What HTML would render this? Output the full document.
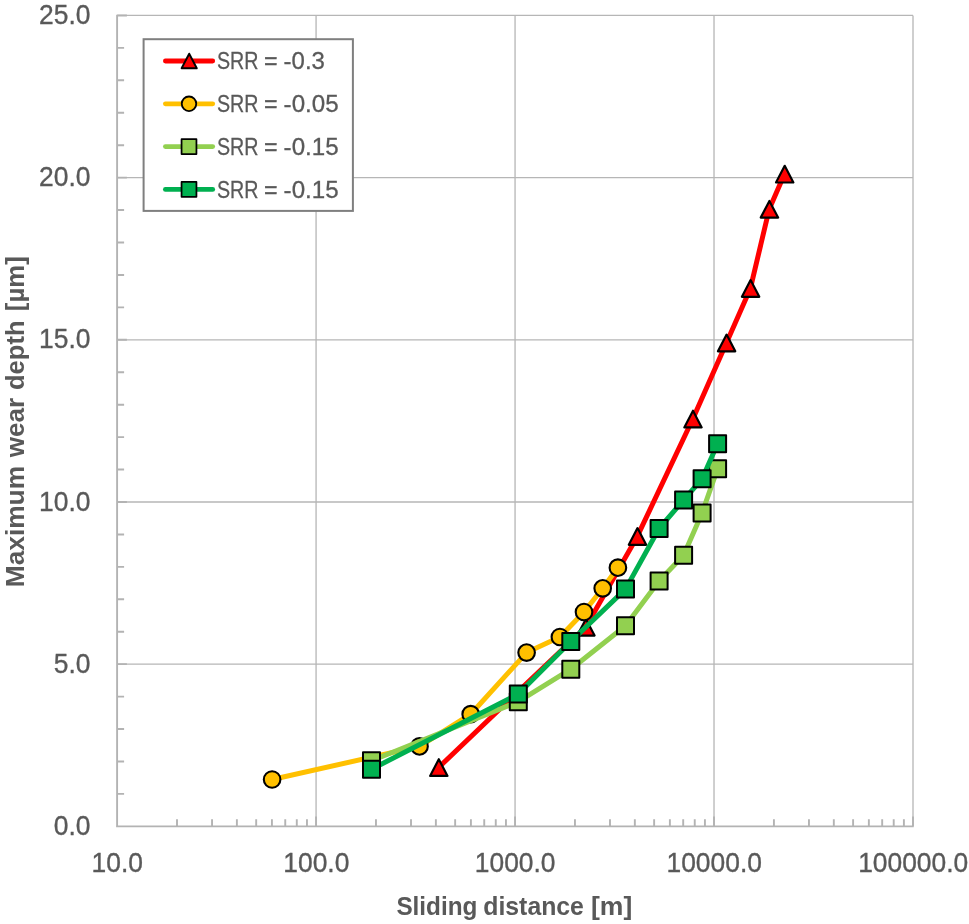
<!DOCTYPE html>
<html lang="en"><head><meta charset="utf-8"><title>Maximum wear depth vs sliding distance</title>
<style>html,body{margin:0;padding:0;background:#fff}body{width:969px;height:924px;overflow:hidden}</style></head>
<body>
<svg width="969" height="924" viewBox="0 0 969 924" style="display:block;font-family:'Liberation Sans',sans-serif">
<rect width="969" height="924" fill="#fff"/>
<path d="M316.07 15.45V826.35M515.05 15.45V826.35M714.02 15.45V826.35M913.00 15.45V826.35M117.10 664.17H913.00M117.10 501.99H913.00M117.10 339.81H913.00M117.10 177.63H913.00M117.10 15.45H913.00" stroke="#b6b6b6" stroke-width="1.3" fill="none"/>
<path d="M117.10 14.75V827.25M116.10 826.35H913.70M117.10 826.35h9.8M117.10 793.91h7M117.10 761.48h7M117.10 729.04h7M117.10 696.61h7M117.10 664.17h9.8M117.10 631.73h7M117.10 599.30h7M117.10 566.86h7M117.10 534.43h7M117.10 501.99h9.8M117.10 469.55h7M117.10 437.12h7M117.10 404.68h7M117.10 372.25h7M117.10 339.81h9.8M117.10 307.37h7M117.10 274.94h7M117.10 242.50h7M117.10 210.07h7M117.10 177.63h9.8M117.10 145.19h7M117.10 112.76h7M117.10 80.32h7M117.10 47.89h7M117.10 15.45h9.8M117.10 826.35v-9.8M177.00 826.35v-7M212.04 826.35v-7M236.89 826.35v-7M256.18 826.35v-7M271.93 826.35v-7M285.25 826.35v-7M296.79 826.35v-7M306.97 826.35v-7M316.07 826.35v-9.8M375.97 826.35v-7M411.01 826.35v-7M435.87 826.35v-7M455.15 826.35v-7M470.91 826.35v-7M484.23 826.35v-7M495.77 826.35v-7M505.95 826.35v-7M515.05 826.35v-9.8M574.95 826.35v-7M609.99 826.35v-7M634.84 826.35v-7M654.13 826.35v-7M669.88 826.35v-7M683.20 826.35v-7M694.74 826.35v-7M704.92 826.35v-7M714.02 826.35v-9.8M773.92 826.35v-7M808.96 826.35v-7M833.82 826.35v-7M853.10 826.35v-7M868.86 826.35v-7M882.18 826.35v-7M893.72 826.35v-7M903.90 826.35v-7M913.00 826.35v-9.8" stroke="#b3b3b3" stroke-width="1.9" fill="none"/>
<g fill="#595959" font-size="27.4" stroke="#595959" stroke-width="0.35">
<text x="90.5" y="834.9" text-anchor="end" textLength="36.7" lengthAdjust="spacingAndGlyphs">0.0</text>
<text x="90.5" y="672.7" text-anchor="end" textLength="36.7" lengthAdjust="spacingAndGlyphs">5.0</text>
<text x="90.5" y="510.5" text-anchor="end" textLength="51.4" lengthAdjust="spacingAndGlyphs">10.0</text>
<text x="90.5" y="348.3" text-anchor="end" textLength="51.4" lengthAdjust="spacingAndGlyphs">15.0</text>
<text x="90.5" y="186.1" text-anchor="end" textLength="51.4" lengthAdjust="spacingAndGlyphs">20.0</text>
<text x="90.5" y="24.0" text-anchor="end" textLength="51.4" lengthAdjust="spacingAndGlyphs">25.0</text>
<text x="117.3" y="872.2" text-anchor="middle" textLength="51.4" lengthAdjust="spacingAndGlyphs">10.0</text>
<text x="316.3" y="872.2" text-anchor="middle" textLength="66.1" lengthAdjust="spacingAndGlyphs">100.0</text>
<text x="515.2" y="872.2" text-anchor="middle" textLength="80.7" lengthAdjust="spacingAndGlyphs">1000.0</text>
<text x="714.2" y="872.2" text-anchor="middle" textLength="95.4" lengthAdjust="spacingAndGlyphs">10000.0</text>
<text x="913.2" y="872.2" text-anchor="middle" textLength="110.1" lengthAdjust="spacingAndGlyphs">100000.0</text>
</g>
<text y="915.0" font-weight="bold" font-size="25.3" fill="#595959"><tspan x="396.4" textLength="81.0" lengthAdjust="spacingAndGlyphs">Sliding</tspan> <tspan x="483.3" textLength="100.6" lengthAdjust="spacingAndGlyphs">distance</tspan> <tspan x="591.0" textLength="41.3" lengthAdjust="spacingAndGlyphs">[m]</tspan></text>
<text transform="translate(23.7 0) rotate(-90)" y="0" font-weight="bold" font-size="25.3" fill="#595959"><tspan x="-587.3" textLength="121.4" lengthAdjust="spacingAndGlyphs">Maximum</tspan> <tspan x="-457.3" textLength="59.5" lengthAdjust="spacingAndGlyphs">wear</tspan> <tspan x="-390.0" textLength="69.5" lengthAdjust="spacingAndGlyphs">depth</tspan> <tspan x="-311.2" textLength="55.0" lengthAdjust="spacingAndGlyphs">[µm]</tspan></text>
<path d="M438.6 767.5L585.7 627.2L637.3 536.4L692.8 419.0L726.4 342.9L750.4 288.4L769.2 209.2L784.5 174.1" stroke="#ff0000" stroke-width="5" fill="none" stroke-linejoin="round" stroke-linecap="round"/>
<path d="M438.8 759.2L447.5 775.9H430.1Z" fill="#ff0000" stroke="#000" stroke-width="2.16" stroke-linejoin="round"/>
<path d="M585.9 618.9L594.6 635.6H577.2Z" fill="#ff0000" stroke="#000" stroke-width="2.16" stroke-linejoin="round"/>
<path d="M637.5 528.1L646.2 544.8H628.8Z" fill="#ff0000" stroke="#000" stroke-width="2.16" stroke-linejoin="round"/>
<path d="M693.0 410.7L701.7 427.4H684.3Z" fill="#ff0000" stroke="#000" stroke-width="2.16" stroke-linejoin="round"/>
<path d="M726.6 334.6L735.3 351.3H717.9Z" fill="#ff0000" stroke="#000" stroke-width="2.16" stroke-linejoin="round"/>
<path d="M750.6 280.1L759.3 296.8H741.9Z" fill="#ff0000" stroke="#000" stroke-width="2.16" stroke-linejoin="round"/>
<path d="M769.4 200.9L778.1 217.6H760.7Z" fill="#ff0000" stroke="#000" stroke-width="2.16" stroke-linejoin="round"/>
<path d="M784.7 165.8L793.4 182.5H776.0Z" fill="#ff0000" stroke="#000" stroke-width="2.16" stroke-linejoin="round"/>
<path d="M272.1 779.5L419.5 746.4L470.7 714.2L526.6 652.6L559.9 637.0L584.0 612.0L602.7 588.3L617.9 567.7" stroke="#ffc000" stroke-width="5" fill="none" stroke-linejoin="round" stroke-linecap="round"/>
<circle cx="272.1" cy="779.5" r="8.30" fill="#ffc000" stroke="#000" stroke-width="2.10"/>
<circle cx="419.5" cy="746.4" r="8.30" fill="#ffc000" stroke="#000" stroke-width="2.10"/>
<circle cx="470.7" cy="714.2" r="8.30" fill="#ffc000" stroke="#000" stroke-width="2.10"/>
<circle cx="526.6" cy="652.6" r="8.30" fill="#ffc000" stroke="#000" stroke-width="2.10"/>
<circle cx="559.9" cy="637.0" r="8.30" fill="#ffc000" stroke="#000" stroke-width="2.10"/>
<circle cx="584.0" cy="612.0" r="8.30" fill="#ffc000" stroke="#000" stroke-width="2.10"/>
<circle cx="602.7" cy="588.3" r="8.30" fill="#ffc000" stroke="#000" stroke-width="2.10"/>
<circle cx="617.9" cy="567.7" r="8.30" fill="#ffc000" stroke="#000" stroke-width="2.10"/>
<path d="M371.5 760.8L518.3 701.7L570.8 669.2L625.5 625.8L659.1 580.9L683.6 555.2L702.1 512.9L717.6 468.7" stroke="#92d050" stroke-width="5" fill="none" stroke-linejoin="round" stroke-linecap="round"/>
<rect x="363.00" y="752.30" width="17.00" height="17.00" fill="#92d050" stroke="#000" stroke-width="2.00" stroke-linejoin="round"/>
<rect x="509.80" y="693.20" width="17.00" height="17.00" fill="#92d050" stroke="#000" stroke-width="2.00" stroke-linejoin="round"/>
<rect x="562.30" y="660.70" width="17.00" height="17.00" fill="#92d050" stroke="#000" stroke-width="2.00" stroke-linejoin="round"/>
<rect x="617.00" y="617.30" width="17.00" height="17.00" fill="#92d050" stroke="#000" stroke-width="2.00" stroke-linejoin="round"/>
<rect x="650.60" y="572.40" width="17.00" height="17.00" fill="#92d050" stroke="#000" stroke-width="2.00" stroke-linejoin="round"/>
<rect x="675.10" y="546.70" width="17.00" height="17.00" fill="#92d050" stroke="#000" stroke-width="2.00" stroke-linejoin="round"/>
<rect x="693.60" y="504.40" width="17.00" height="17.00" fill="#92d050" stroke="#000" stroke-width="2.00" stroke-linejoin="round"/>
<rect x="709.10" y="460.20" width="17.00" height="17.00" fill="#92d050" stroke="#000" stroke-width="2.00" stroke-linejoin="round"/>
<path d="M371.5 769.2L518.3 694.1L570.8 641.6L625.5 589.1L659.1 528.5L683.6 500.0L702.1 478.8L717.6 443.8" stroke="#00b050" stroke-width="5" fill="none" stroke-linejoin="round" stroke-linecap="round"/>
<rect x="363.00" y="760.70" width="17.00" height="17.00" fill="#00b050" stroke="#000" stroke-width="2.00" stroke-linejoin="round"/>
<rect x="509.80" y="685.60" width="17.00" height="17.00" fill="#00b050" stroke="#000" stroke-width="2.00" stroke-linejoin="round"/>
<rect x="562.30" y="633.10" width="17.00" height="17.00" fill="#00b050" stroke="#000" stroke-width="2.00" stroke-linejoin="round"/>
<rect x="617.00" y="580.60" width="17.00" height="17.00" fill="#00b050" stroke="#000" stroke-width="2.00" stroke-linejoin="round"/>
<rect x="650.60" y="520.00" width="17.00" height="17.00" fill="#00b050" stroke="#000" stroke-width="2.00" stroke-linejoin="round"/>
<rect x="675.10" y="491.50" width="17.00" height="17.00" fill="#00b050" stroke="#000" stroke-width="2.00" stroke-linejoin="round"/>
<rect x="693.60" y="470.30" width="17.00" height="17.00" fill="#00b050" stroke="#000" stroke-width="2.00" stroke-linejoin="round"/>
<rect x="709.10" y="435.30" width="17.00" height="17.00" fill="#00b050" stroke="#000" stroke-width="2.00" stroke-linejoin="round"/>
<rect x="143.6" y="39.2" width="209.3" height="171.7" fill="#fff" stroke="#7f7f7f" stroke-width="2"/>
<path d="M165.4 61.0H212.7" stroke="#ff0000" stroke-width="4.8" stroke-linecap="round"/>
<path d="M189.2 53.7L196.8 68.3H181.6Z" fill="#ff0000" stroke="#000" stroke-width="1.89" stroke-linejoin="round"/>
<text y="69.4" font-size="24" fill="#595959" stroke="#595959" stroke-width="0.3"><tspan x="216.9" textLength="41.5" lengthAdjust="spacingAndGlyphs">SRR</tspan> <tspan x="263.9" textLength="13.6" lengthAdjust="spacingAndGlyphs">=</tspan> <tspan x="283.6" textLength="41.3" lengthAdjust="spacingAndGlyphs">-0.3</tspan></text>
<path d="M165.4 103.8H212.7" stroke="#ffc000" stroke-width="4.8" stroke-linecap="round"/>
<circle cx="189.0" cy="103.8" r="7.26" fill="#ffc000" stroke="#000" stroke-width="1.84"/>
<text y="112.2" font-size="24" fill="#595959" stroke="#595959" stroke-width="0.3"><tspan x="216.9" textLength="41.5" lengthAdjust="spacingAndGlyphs">SRR</tspan> <tspan x="263.9" textLength="13.6" lengthAdjust="spacingAndGlyphs">=</tspan> <tspan x="283.6" textLength="55.0" lengthAdjust="spacingAndGlyphs">-0.05</tspan></text>
<path d="M165.4 146.6H212.7" stroke="#92d050" stroke-width="4.8" stroke-linecap="round"/>
<rect x="181.56" y="139.16" width="14.88" height="14.88" fill="#92d050" stroke="#000" stroke-width="1.75" stroke-linejoin="round"/>
<text y="155.0" font-size="24" fill="#595959" stroke="#595959" stroke-width="0.3"><tspan x="216.9" textLength="41.5" lengthAdjust="spacingAndGlyphs">SRR</tspan> <tspan x="263.9" textLength="13.6" lengthAdjust="spacingAndGlyphs">=</tspan> <tspan x="283.6" textLength="55.0" lengthAdjust="spacingAndGlyphs">-0.15</tspan></text>
<path d="M165.4 189.4H212.7" stroke="#00b050" stroke-width="4.8" stroke-linecap="round"/>
<rect x="181.56" y="181.96" width="14.88" height="14.88" fill="#00b050" stroke="#000" stroke-width="1.75" stroke-linejoin="round"/>
<text y="197.8" font-size="24" fill="#595959" stroke="#595959" stroke-width="0.3"><tspan x="216.9" textLength="41.5" lengthAdjust="spacingAndGlyphs">SRR</tspan> <tspan x="263.9" textLength="13.6" lengthAdjust="spacingAndGlyphs">=</tspan> <tspan x="283.6" textLength="55.0" lengthAdjust="spacingAndGlyphs">-0.15</tspan></text>
</svg>
</body></html>
